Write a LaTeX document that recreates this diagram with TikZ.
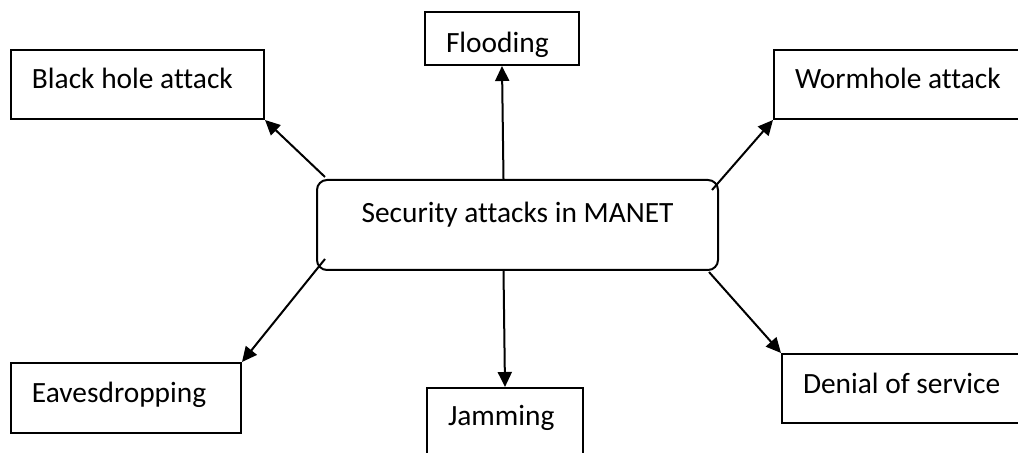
\documentclass[tikz,border=0pt]{standalone}
\usepackage{fontspec}
\setmainfont[Ligatures=NoCommon]{Carlito}
\usetikzlibrary{arrows.meta}

\begin{document}
\begin{tikzpicture}[
		x=0.5pt,y=-0.5pt,
		font=\fontsize{14.7pt}{17pt}\selectfont,
		box/.style={draw,line width=1pt,anchor=north west,inner xsep=10.5pt,inner ysep=0pt,align=flush left,text height=20pt,text depth=15pt},
		hub/.style={draw,line width=1pt,rounded corners=5pt,anchor=north west,minimum width=200.5pt,inner ysep=0pt,text height=21.5pt,text depth=23.5pt},
		arrow/.style={-{Triangle[length=7.5pt,width=7pt]},line width=1pt}
		]
		\useasboundingbox (0,0) rectangle (1018,453);
		\node[hub] (manet) at (316,179) {Security attacks in MANET};
		\node[box,text width=105.5pt,text height=19.5pt] (blackhole) at (10,49) {Black hole attack};
		\node[box,text width=56pt,text height=20.5pt,text depth=6pt] (flooding) at (424,11) {Flooding};
		\node[box,text width=121pt,text height=19.5pt] (wormhole) at (773,49) {Wormhole attack};
		\node[box,text width=94pt] (eaves) at (10,362) {Eavesdropping};
		\node[box,text width=57pt,text height=19pt,text depth=20pt] (jamming) at (426,387) {Jamming};
		\node[box,text width=111pt,text depth=14.5pt] (denial) at (781,353) {Denial of service};
		\draw[arrow] ([xshift=-7pt]manet.north) -- (flooding.south);
		\draw[arrow] ([shift={(4.5pt,1pt)}]manet.north west) -- (blackhole.south east);
		\draw[arrow] ([shift={(-3.5pt,-5.5pt)}]manet.north east) -- (wormhole.south west);
		\draw[arrow] ([shift={(4.5pt,6pt)}]manet.south west) -- (eaves.north east);
		\draw[arrow] ([shift={(-5pt,-0.5pt)}]manet.south east) -- (denial.north west);
		\draw[arrow] ([xshift=-7pt]manet.south) -- (jamming.north);
	\end{tikzpicture}
\end{document}
